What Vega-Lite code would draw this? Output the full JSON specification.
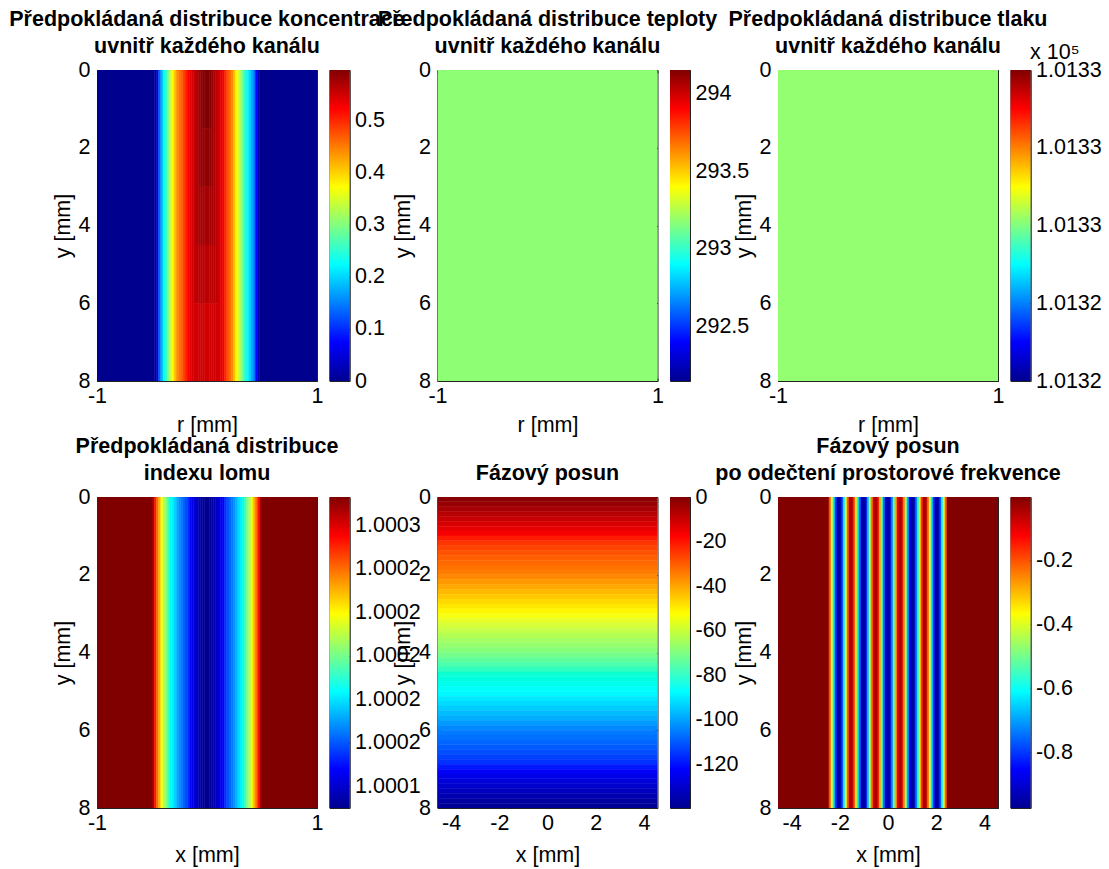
{"$schema":"https://vega.github.io/schema/vega-lite/v6.json","background":"white","padding":{"left":8,"top":8,"right":0,"bottom":0},"bounds":"flush","align":"each","columns":8,"spacing":{"column":12.5,"row":116},"resolve":{"scale":{"color":"independent","stroke":"independent"}},
"config":{"view":{"stroke":"#222"},"axis":{"tickSize":-3,"tickColor":"#222","domainColor":"#222","labelFontSize":21.5,"titleFontSize":21.5,"labelFont":"Liberation Sans","titleFont":"Liberation Sans","titleFontWeight":"normal","labelColor":"#000","titleColor":"#000","grid":false,"labelOverlap":false,"labelBound":false,"labelFlush":false},"axisBottom":{"labelPadding":7,"titlePadding":8},"axisLeft":{"labelPadding":10},"axisRight":{"labelPadding":8},"title":{"font":"Liberation Sans","fontSize":21.5,"fontWeight":"bold","color":"#000","lineHeight":26.5,"offset":2,"limit":600}},
"concat":[
{"width":220,"height":311,"title":{"text":["Předpokládaná distribuce koncentrace","uvnitř každého kanálu"]},"data":{"values":[
{"x0":-1,"x1":-0.5,"y0":0,"y1":8,"v":0},{"x0":-0.5,"x1":-0.48,"y0":0,"y1":8,"v":0},{"x0":-0.48,"x1":-0.46,"y0":0,"y1":8,"v":0.007},{"x0":-0.46,"x1":-0.44,"y0":0,"y1":8,"v":0.048},{"x0":-0.44,"x1":-0.42,"y0":0,"y1":8,"v":0.123},{"x0":-0.42,"x1":-0.4,"y0":0,"y1":8,"v":0.176},{"x0":-0.4,"x1":-0.38,"y0":0,"y1":8,"v":0.227},{"x0":-0.38,"x1":-0.36,"y0":0,"y1":8,"v":0.267},{"x0":-0.36,"x1":-0.34,"y0":0,"y1":8,"v":0.307},{"x0":-0.34,"x1":-0.32,"y0":0,"y1":8,"v":0.339},{"x0":-0.32,"x1":-0.3,"y0":0,"y1":8,"v":0.372},{"x0":-0.3,"x1":-0.28,"y0":0,"y1":8,"v":0.407},{"x0":-0.28,"x1":-0.26,"y0":0,"y1":8,"v":0.438},{"x0":-0.26,"x1":-0.24,"y0":0,"y1":8,"v":0.461},{"x0":-0.24,"x1":-0.22,"y0":0,"y1":8,"v":0.478},{"x0":-0.22,"x1":-0.2,"y0":0,"y1":8,"v":0.498},{"x0":-0.2,"x1":-0.18,"y0":0,"y1":8,"v":0.515},{"x0":-0.18,"x1":-0.16,"y0":0,"y1":8,"v":0.529},{"x0":-0.16,"x1":-0.14,"y0":0,"y1":8,"v":0.538},{"x0":-0.14,"x1":-0.12,"y0":0,"y1":8,"v":0.548},
{"x0":-0.12,"x1":-0.1,"y0":0,"y1":6,"v":0.558},{"x0":-0.12,"x1":-0.1,"y0":6,"y1":8,"v":0.55},
{"x0":-0.1,"x1":-0.08,"y0":0,"y1":4.5,"v":0.568},{"x0":-0.1,"x1":-0.08,"y0":4.5,"y1":6,"v":0.562},{"x0":-0.1,"x1":-0.08,"y0":6,"y1":8,"v":0.55},
{"x0":-0.08,"x1":-0.06,"y0":0,"y1":3,"v":0.577},{"x0":-0.08,"x1":-0.06,"y0":3,"y1":4.5,"v":0.574},{"x0":-0.08,"x1":-0.06,"y0":4.5,"y1":6,"v":0.562},{"x0":-0.08,"x1":-0.06,"y0":6,"y1":8,"v":0.55},
{"x0":-0.06,"x1":-0.04,"y0":0,"y1":3,"v":0.586},{"x0":-0.06,"x1":-0.04,"y0":3,"y1":4.5,"v":0.574},{"x0":-0.06,"x1":-0.04,"y0":4.5,"y1":6,"v":0.562},{"x0":-0.06,"x1":-0.04,"y0":6,"y1":8,"v":0.55},
{"x0":-0.04,"x1":-0.02,"y0":0,"y1":1.5,"v":0.598},{"x0":-0.04,"x1":-0.02,"y0":1.5,"y1":3,"v":0.586},{"x0":-0.04,"x1":-0.02,"y0":3,"y1":4.5,"v":0.574},{"x0":-0.04,"x1":-0.02,"y0":4.5,"y1":6,"v":0.562},{"x0":-0.04,"x1":-0.02,"y0":6,"y1":8,"v":0.55},
{"x0":-0.02,"x1":0,"y0":0,"y1":1.5,"v":0.598},{"x0":-0.02,"x1":0,"y0":1.5,"y1":3,"v":0.586},{"x0":-0.02,"x1":0,"y0":3,"y1":4.5,"v":0.574},{"x0":-0.02,"x1":0,"y0":4.5,"y1":6,"v":0.562},{"x0":-0.02,"x1":0,"y0":6,"y1":8,"v":0.55},
{"x0":0,"x1":0.02,"y0":0,"y1":1.5,"v":0.598},{"x0":0,"x1":0.02,"y0":1.5,"y1":3,"v":0.586},{"x0":0,"x1":0.02,"y0":3,"y1":4.5,"v":0.574},{"x0":0,"x1":0.02,"y0":4.5,"y1":6,"v":0.562},{"x0":0,"x1":0.02,"y0":6,"y1":8,"v":0.55},
{"x0":0.02,"x1":0.04,"y0":0,"y1":1.5,"v":0.596},{"x0":0.02,"x1":0.04,"y0":1.5,"y1":3,"v":0.586},{"x0":0.02,"x1":0.04,"y0":3,"y1":4.5,"v":0.574},{"x0":0.02,"x1":0.04,"y0":4.5,"y1":6,"v":0.562},{"x0":0.02,"x1":0.04,"y0":6,"y1":8,"v":0.55},
{"x0":0.04,"x1":0.06,"y0":0,"y1":3,"v":0.583},{"x0":0.04,"x1":0.06,"y0":3,"y1":4.5,"v":0.574},{"x0":0.04,"x1":0.06,"y0":4.5,"y1":6,"v":0.562},{"x0":0.04,"x1":0.06,"y0":6,"y1":8,"v":0.55},
{"x0":0.06,"x1":0.08,"y0":0,"y1":4.5,"v":0.57},{"x0":0.06,"x1":0.08,"y0":4.5,"y1":6,"v":0.562},{"x0":0.06,"x1":0.08,"y0":6,"y1":8,"v":0.55},
{"x0":0.08,"x1":0.1,"y0":0,"y1":6,"v":0.56},{"x0":0.08,"x1":0.1,"y0":6,"y1":8,"v":0.55},
{"x0":0.1,"x1":0.12,"y0":0,"y1":8,"v":0.55},{"x0":0.12,"x1":0.14,"y0":0,"y1":8,"v":0.54},{"x0":0.14,"x1":0.16,"y0":0,"y1":8,"v":0.53},{"x0":0.16,"x1":0.18,"y0":0,"y1":8,"v":0.515},{"x0":0.18,"x1":0.2,"y0":0,"y1":8,"v":0.492},{"x0":0.2,"x1":0.22,"y0":0,"y1":8,"v":0.469},{"x0":0.22,"x1":0.24,"y0":0,"y1":8,"v":0.444},{"x0":0.24,"x1":0.26,"y0":0,"y1":8,"v":0.411},{"x0":0.26,"x1":0.28,"y0":0,"y1":8,"v":0.378},{"x0":0.28,"x1":0.3,"y0":0,"y1":8,"v":0.35},{"x0":0.3,"x1":0.32,"y0":0,"y1":8,"v":0.323},{"x0":0.32,"x1":0.34,"y0":0,"y1":8,"v":0.288},{"x0":0.34,"x1":0.36,"y0":0,"y1":8,"v":0.261},{"x0":0.36,"x1":0.38,"y0":0,"y1":8,"v":0.229},{"x0":0.38,"x1":0.4,"y0":0,"y1":8,"v":0.2},{"x0":0.4,"x1":0.42,"y0":0,"y1":8,"v":0.173},{"x0":0.42,"x1":0.44,"y0":0,"y1":8,"v":0.141},{"x0":0.44,"x1":0.46,"y0":0,"y1":8,"v":0.075},{"x0":0.46,"x1":0.48,"y0":0,"y1":8,"v":0.009},{"x0":0.48,"x1":0.5,"y0":0,"y1":8,"v":0},{"x0":0.5,"x1":1,"y0":0,"y1":8,"v":0}]},
"layer":[{"mark":{"type":"rect","clip":true,"strokeWidth":0.5},"encoding":{"x":{"field":"x0","type":"quantitative","scale":{"domain":[-1,1],"nice":false},"axis":{"orient":"bottom","values":[-1,0,1],"format":"d","labelExpr":"replace(datum.label,'−','-')","title":"r [mm]"}},"x2":{"field":"x1"},"y":{"field":"y0","type":"quantitative","scale":{"domain":[0,8],"reverse":true,"nice":false},"axis":{"orient":"left","values":[0,2,4,6,8],"title":"y [mm]"}},"y2":{"field":"y1"},"color":{"field":"v","type":"quantitative","legend":null,"scale":{"domain":[0,0.598],"range":["#00008f","#0000ff","#0080ff","#00ffff","#80ff80","#ffff00","#ff8000","#ff0000","#800000"]}},"stroke":{"field":"v","type":"quantitative","legend":null,"scale":{"domain":[0,0.598],"range":["#00008f","#0000ff","#0080ff","#00ffff","#80ff80","#ffff00","#ff8000","#ff0000","#800000"]}}}},
{"data":{"values":[{"a":1}]},"mark":{"type":"rect","opacity":0},"encoding":{"x":{"datum":-1,"type":"quantitative","axis":{"orient":"top","values":[-1,0,1],"labels":false,"title":null,"domain":false}},"y":{"datum":0,"type":"quantitative","axis":{"orient":"right","values":[0,2,4,6,8],"labels":false,"title":null,"domain":false}}}}],"resolve":{"axis":{"x":"independent","y":"independent"}}},
{"width":20,"height":311,"data":{"values":[{"lo":0,"hi":0.598}]},"layer":[{"mark":{"type":"rect","color":{"gradient":"linear","x1":0,"y1":1,"x2":0,"y2":0,"stops":[{"offset":0,"color":"#00008f"},{"offset":0.125,"color":"#0000ff"},{"offset":0.25,"color":"#0080ff"},{"offset":0.375,"color":"#00ffff"},{"offset":0.5,"color":"#80ff80"},{"offset":0.625,"color":"#ffff00"},{"offset":0.75,"color":"#ff8000"},{"offset":0.875,"color":"#ff0000"},{"offset":1,"color":"#800000"}]}},"encoding":{"x":{"datum":0,"type":"quantitative","scale":{"domain":[0,1]},"axis":null},"x2":{"datum":1},"y":{"field":"lo","type":"quantitative","scale":{"domain":[0,0.598],"nice":false},"axis":{"orient":"right","values":[0,0.1,0.2,0.3,0.4,0.5],"format":".1~f","title":null}},"y2":{"field":"hi"}}},{"mark":{"type":"rect","opacity":0},"encoding":{"x":{"datum":0,"type":"quantitative","axis":null},"x2":{"datum":1},"y":{"field":"lo","type":"quantitative","axis":{"orient":"left","values":[0,0.1,0.2,0.3,0.4,0.5],"labels":false,"title":null,"domain":false}},"y2":{"field":"hi"}}}],"resolve":{"axis":{"y":"independent"}}},
{"width":62.5,"height":311,"view":{"stroke":null},"data":{"values":[{"a":1}]},"mark":{"type":"rect","opacity":0},"encoding":{"x":{"datum":0,"type":"quantitative","axis":null},"y":{"datum":0,"type":"quantitative","axis":null}}},
{"width":220,"height":311,"title":{"text":["Předpokládaná distribuce teploty","uvnitř každého kanálu"]},"data":{"values":[{"v":293.18}]},"layer":[{"mark":{"type":"rect","clip":true},"encoding":{"x":{"datum":-1,"type":"quantitative","scale":{"domain":[-1,1],"nice":false},"axis":{"orient":"bottom","values":[-1,0,1],"format":"d","labelExpr":"replace(datum.label,'−','-')","title":"r [mm]"}},"x2":{"datum":1},"y":{"datum":0,"type":"quantitative","scale":{"domain":[0,8],"reverse":true,"nice":false},"axis":{"orient":"left","values":[0,2,4,6,8],"title":"y [mm]"}},"y2":{"datum":8},"color":{"field":"v","type":"quantitative","legend":null,"scale":{"domain":[292.15,294.15],"range":["#00008f","#0000ff","#0080ff","#00ffff","#80ff80","#ffff00","#ff8000","#ff0000","#800000"]}}}},
{"data":{"values":[{"a":1}]},"mark":{"type":"rect","opacity":0},"encoding":{"x":{"datum":-1,"type":"quantitative","axis":{"orient":"top","values":[-1,0,1],"labels":false,"title":null,"domain":false}},"y":{"datum":0,"type":"quantitative","axis":{"orient":"right","values":[0,2,4,6,8],"labels":false,"title":null,"domain":false}}}}],"resolve":{"axis":{"x":"independent","y":"independent"}}},
{"width":20,"height":311,"data":{"values":[{"lo":292.15,"hi":294.15}]},"layer":[{"mark":{"type":"rect","color":{"gradient":"linear","x1":0,"y1":1,"x2":0,"y2":0,"stops":[{"offset":0,"color":"#00008f"},{"offset":0.125,"color":"#0000ff"},{"offset":0.25,"color":"#0080ff"},{"offset":0.375,"color":"#00ffff"},{"offset":0.5,"color":"#80ff80"},{"offset":0.625,"color":"#ffff00"},{"offset":0.75,"color":"#ff8000"},{"offset":0.875,"color":"#ff0000"},{"offset":1,"color":"#800000"}]}},"encoding":{"x":{"datum":0,"type":"quantitative","scale":{"domain":[0,1]},"axis":null},"x2":{"datum":1},"y":{"field":"lo","type":"quantitative","scale":{"domain":[292.15,294.15],"nice":false},"axis":{"orient":"right","values":[292.5,293,293.5,294],"format":".1~f","title":null}},"y2":{"field":"hi"}}},{"mark":{"type":"rect","opacity":0},"encoding":{"x":{"datum":0,"type":"quantitative","axis":null},"x2":{"datum":1},"y":{"field":"lo","type":"quantitative","axis":{"orient":"left","values":[292.5,293,293.5,294],"labels":false,"title":null,"domain":false}},"y2":{"field":"hi"}}}],"resolve":{"axis":{"y":"independent"}}},
{"width":62.5,"height":311,"view":{"stroke":null},"data":{"values":[{"a":1}]},"mark":{"type":"rect","opacity":0},"encoding":{"x":{"datum":0,"type":"quantitative","axis":null},"y":{"datum":0,"type":"quantitative","axis":null}}},
{"width":220,"height":311,"title":{"text":["Předpokládaná distribuce tlaku","uvnitř každého kanálu"]},"data":{"values":[{"v":1.0132504}]},"layer":[{"mark":{"type":"rect","clip":true},"encoding":{"x":{"datum":-1,"type":"quantitative","scale":{"domain":[-1,1],"nice":false},"axis":{"orient":"bottom","values":[-1,0,1],"format":"d","labelExpr":"replace(datum.label,'−','-')","title":"r [mm]"}},"x2":{"datum":1},"y":{"datum":0,"type":"quantitative","scale":{"domain":[0,8],"reverse":true,"nice":false},"axis":{"orient":"left","values":[0,2,4,6,8],"title":"y [mm]"}},"y2":{"datum":8},"color":{"field":"v","type":"quantitative","legend":null,"scale":{"domain":[1.01324,1.01326],"range":["#00008f","#0000ff","#0080ff","#00ffff","#80ff80","#ffff00","#ff8000","#ff0000","#800000"]}}}},
{"data":{"values":[{"a":1}]},"mark":{"type":"rect","opacity":0},"encoding":{"x":{"datum":-1,"type":"quantitative","axis":{"orient":"top","values":[-1,0,1],"labels":false,"title":null,"domain":false}},"y":{"datum":0,"type":"quantitative","axis":{"orient":"right","values":[0,2,4,6,8],"labels":false,"title":null,"domain":false}}}}],"resolve":{"axis":{"x":"independent","y":"independent"}}},
{"width":20,"height":311,"title":{"text":"x 10⁵","anchor":"start","fontWeight":"normal","dx":20,"offset":-4},"data":{"values":[{"lo":1.01324,"hi":1.01326}]},"layer":[{"mark":{"type":"rect","color":{"gradient":"linear","x1":0,"y1":1,"x2":0,"y2":0,"stops":[{"offset":0,"color":"#00008f"},{"offset":0.125,"color":"#0000ff"},{"offset":0.25,"color":"#0080ff"},{"offset":0.375,"color":"#00ffff"},{"offset":0.5,"color":"#80ff80"},{"offset":0.625,"color":"#ffff00"},{"offset":0.75,"color":"#ff8000"},{"offset":0.875,"color":"#ff0000"},{"offset":1,"color":"#800000"}]}},"encoding":{"x":{"datum":0,"type":"quantitative","scale":{"domain":[0,1]},"axis":null},"x2":{"datum":1},"y":{"field":"lo","type":"quantitative","scale":{"domain":[1.01324,1.01326],"nice":false},"axis":{"orient":"right","values":[1.01324,1.013245,1.01325001,1.013255,1.01326],"format":".4f","title":null}},"y2":{"field":"hi"}}},{"mark":{"type":"rect","opacity":0},"encoding":{"x":{"datum":0,"type":"quantitative","axis":null},"x2":{"datum":1},"y":{"field":"lo","type":"quantitative","axis":{"orient":"left","values":[1.01324,1.013245,1.01325,1.013255,1.01326],"labels":false,"title":null,"domain":false}},"y2":{"field":"hi"}}}],"resolve":{"axis":{"y":"independent"}}},
{"width":220,"height":311,"title":{"text":["Předpokládaná distribuce","indexu lomu"]},"data":{"values":[
{"x0":-1,"x1":-0.5,"v":1.000273},{"x0":-0.5,"x1":-0.48,"v":1.0002687},{"x0":-0.48,"x1":-0.46,"v":1.0002544},{"x0":-0.46,"x1":-0.44,"v":1.0002415},{"x0":-0.44,"x1":-0.42,"v":1.0002301},{"x0":-0.42,"x1":-0.4,"v":1.0002187},{"x0":-0.4,"x1":-0.38,"v":1.0002087},{"x0":-0.38,"x1":-0.36,"v":1.0002015},{"x0":-0.36,"x1":-0.34,"v":1.0001944},{"x0":-0.34,"x1":-0.32,"v":1.0001872},{"x0":-0.32,"x1":-0.3,"v":1.0001815},{"x0":-0.3,"x1":-0.28,"v":1.0001772},{"x0":-0.28,"x1":-0.26,"v":1.0001722},{"x0":-0.26,"x1":-0.24,"v":1.0001679},{"x0":-0.24,"x1":-0.22,"v":1.0001643},{"x0":-0.22,"x1":-0.2,"v":1.00016},{"x0":-0.2,"x1":-0.18,"v":1.0001557},{"x0":-0.18,"x1":-0.16,"v":1.0001515},{"x0":-0.16,"x1":-0.14,"v":1.0001472},{"x0":-0.14,"x1":-0.12,"v":1.0001443},{"x0":-0.12,"x1":-0.1,"v":1.0001414},{"x0":-0.1,"x1":-0.08,"v":1.0001386},{"x0":-0.08,"x1":-0.06,"v":1.0001364},{"x0":-0.06,"x1":-0.04,"v":1.0001343},{"x0":-0.04,"x1":-0.02,"v":1.0001314},{"x0":-0.02,"x1":0,"v":1.00013},
{"x0":0,"x1":0.02,"v":1.00013},{"x0":0.02,"x1":0.04,"v":1.0001314},{"x0":0.04,"x1":0.06,"v":1.0001343},{"x0":0.06,"x1":0.08,"v":1.0001364},{"x0":0.08,"x1":0.1,"v":1.0001386},{"x0":0.1,"x1":0.12,"v":1.0001414},{"x0":0.12,"x1":0.14,"v":1.0001443},{"x0":0.14,"x1":0.16,"v":1.0001472},{"x0":0.16,"x1":0.18,"v":1.0001515},{"x0":0.18,"x1":0.2,"v":1.0001557},{"x0":0.2,"x1":0.22,"v":1.00016},{"x0":0.22,"x1":0.24,"v":1.0001643},{"x0":0.24,"x1":0.26,"v":1.0001679},{"x0":0.26,"x1":0.28,"v":1.0001722},{"x0":0.28,"x1":0.3,"v":1.0001772},{"x0":0.3,"x1":0.32,"v":1.0001815},{"x0":0.32,"x1":0.34,"v":1.0001872},{"x0":0.34,"x1":0.36,"v":1.0001944},{"x0":0.36,"x1":0.38,"v":1.0002015},{"x0":0.38,"x1":0.4,"v":1.0002087},{"x0":0.4,"x1":0.42,"v":1.0002187},{"x0":0.42,"x1":0.44,"v":1.0002301},{"x0":0.44,"x1":0.46,"v":1.0002415},{"x0":0.46,"x1":0.48,"v":1.0002544},{"x0":0.48,"x1":0.5,"v":1.0002687},{"x0":0.5,"x1":1,"v":1.000273}]},
"layer":[{"mark":{"type":"rect","clip":true,"strokeWidth":0.5},"encoding":{"x":{"field":"x0","type":"quantitative","scale":{"domain":[-1,1],"nice":false},"axis":{"orient":"bottom","values":[-1,0,1],"format":"d","labelExpr":"replace(datum.label,'−','-')","title":"x [mm]","titlePadding":11}},"x2":{"field":"x1"},"y":{"datum":0,"type":"quantitative","scale":{"domain":[0,8],"reverse":true,"nice":false},"axis":{"orient":"left","values":[0,2,4,6,8],"title":"y [mm]"}},"y2":{"datum":8},"color":{"field":"v","type":"quantitative","legend":null,"scale":{"domain":[1.00013,1.000273],"range":["#00008f","#0000ff","#0080ff","#00ffff","#80ff80","#ffff00","#ff8000","#ff0000","#800000"]}},"stroke":{"field":"v","type":"quantitative","legend":null,"scale":{"domain":[1.00013,1.000273],"range":["#00008f","#0000ff","#0080ff","#00ffff","#80ff80","#ffff00","#ff8000","#ff0000","#800000"]}}}},
{"data":{"values":[{"a":1}]},"mark":{"type":"rect","opacity":0},"encoding":{"x":{"datum":-1,"type":"quantitative","axis":{"orient":"top","values":[-1,0,1],"labels":false,"title":null,"domain":false}},"y":{"datum":0,"type":"quantitative","axis":{"orient":"right","values":[0,2,4,6,8],"labels":false,"title":null,"domain":false}}}}],"resolve":{"axis":{"x":"independent","y":"independent"}}},
{"width":20,"height":311,"data":{"values":[{"lo":1.00013,"hi":1.000273}]},"layer":[{"mark":{"type":"rect","color":{"gradient":"linear","x1":0,"y1":1,"x2":0,"y2":0,"stops":[{"offset":0,"color":"#00008f"},{"offset":0.125,"color":"#0000ff"},{"offset":0.25,"color":"#0080ff"},{"offset":0.375,"color":"#00ffff"},{"offset":0.5,"color":"#80ff80"},{"offset":0.625,"color":"#ffff00"},{"offset":0.75,"color":"#ff8000"},{"offset":0.875,"color":"#ff0000"},{"offset":1,"color":"#800000"}]}},"encoding":{"x":{"datum":0,"type":"quantitative","scale":{"domain":[0,1]},"axis":null},"x2":{"datum":1},"y":{"field":"lo","type":"quantitative","scale":{"domain":[1.00013,1.000273],"nice":false},"axis":{"orient":"right","values":[1.00014,1.00016,1.00018,1.0002,1.00022,1.00024,1.00026],"format":".4f","title":null}},"y2":{"field":"hi"}}},{"mark":{"type":"rect","opacity":0},"encoding":{"x":{"datum":0,"type":"quantitative","axis":null},"x2":{"datum":1},"y":{"field":"lo","type":"quantitative","axis":{"orient":"left","values":[1.00014,1.00016,1.00018,1.0002,1.00022,1.00024,1.00026],"labels":false,"title":null,"domain":false}},"y2":{"field":"hi"}}}],"resolve":{"axis":{"y":"independent"}}},
{"width":62.5,"height":311,"view":{"stroke":null},"data":{"values":[{"a":1}]},"mark":{"type":"rect","opacity":0},"encoding":{"x":{"datum":0,"type":"quantitative","axis":null},"y":{"datum":0,"type":"quantitative","axis":null}}},
{"width":220,"height":311,"title":{"text":"Fázový posun"},"data":{"values":[
{"y0":0,"y1":0.125,"v":-1.1},{"y0":0.125,"y1":0.25,"v":-3.3},{"y0":0.25,"y1":0.375,"v":-5.5},{"y0":0.375,"y1":0.5,"v":-7.6},{"y0":0.5,"y1":0.625,"v":-9.8},{"y0":0.625,"y1":0.75,"v":-12},{"y0":0.75,"y1":0.875,"v":-14.2},{"y0":0.875,"y1":1,"v":-16.4},{"y0":1,"y1":1.125,"v":-18.5},{"y0":1.125,"y1":1.25,"v":-20.7},{"y0":1.25,"y1":1.375,"v":-22.9},{"y0":1.375,"y1":1.5,"v":-25.1},{"y0":1.5,"y1":1.625,"v":-27.3},{"y0":1.625,"y1":1.75,"v":-29.4},{"y0":1.75,"y1":1.875,"v":-31.6},{"y0":1.875,"y1":2,"v":-33.8},{"y0":2,"y1":2.125,"v":-36},{"y0":2.125,"y1":2.25,"v":-38.2},{"y0":2.25,"y1":2.375,"v":-40.3},{"y0":2.375,"y1":2.5,"v":-42.5},{"y0":2.5,"y1":2.625,"v":-44.7},{"y0":2.625,"y1":2.75,"v":-46.9},{"y0":2.75,"y1":2.875,"v":-49.1},{"y0":2.875,"y1":3,"v":-51.2},{"y0":3,"y1":3.125,"v":-53.4},{"y0":3.125,"y1":3.25,"v":-55.6},{"y0":3.25,"y1":3.375,"v":-57.8},{"y0":3.375,"y1":3.5,"v":-60},{"y0":3.5,"y1":3.625,"v":-62.1},{"y0":3.625,"y1":3.75,"v":-64.3},{"y0":3.75,"y1":3.875,"v":-66.5},{"y0":3.875,"y1":4,"v":-68.7},{"y0":4,"y1":4.125,"v":-70.9},{"y0":4.125,"y1":4.25,"v":-73},{"y0":4.25,"y1":4.375,"v":-75.2},{"y0":4.375,"y1":4.5,"v":-77.4},{"y0":4.5,"y1":4.625,"v":-79.6},{"y0":4.625,"y1":4.75,"v":-81.8},{"y0":4.75,"y1":4.875,"v":-83.9},{"y0":4.875,"y1":5,"v":-86.1},{"y0":5,"y1":5.125,"v":-88.3},{"y0":5.125,"y1":5.25,"v":-90.5},{"y0":5.25,"y1":5.375,"v":-92.7},{"y0":5.375,"y1":5.5,"v":-94.8},{"y0":5.5,"y1":5.625,"v":-97},{"y0":5.625,"y1":5.75,"v":-99.2},{"y0":5.75,"y1":5.875,"v":-101.4},{"y0":5.875,"y1":6,"v":-103.6},{"y0":6,"y1":6.125,"v":-105.7},{"y0":6.125,"y1":6.25,"v":-107.9},{"y0":6.25,"y1":6.375,"v":-110.1},{"y0":6.375,"y1":6.5,"v":-112.3},{"y0":6.5,"y1":6.625,"v":-114.5},{"y0":6.625,"y1":6.75,"v":-116.6},{"y0":6.75,"y1":6.875,"v":-118.8},{"y0":6.875,"y1":7,"v":-121},{"y0":7,"y1":7.125,"v":-123.2},{"y0":7.125,"y1":7.25,"v":-125.4},{"y0":7.25,"y1":7.375,"v":-127.5},{"y0":7.375,"y1":7.5,"v":-129.7},{"y0":7.5,"y1":7.625,"v":-131.9},{"y0":7.625,"y1":7.75,"v":-134.1},{"y0":7.75,"y1":7.875,"v":-136.3},{"y0":7.875,"y1":8,"v":-138.4}]},
"layer":[{"mark":{"type":"rect","clip":true,"strokeWidth":0.5},"encoding":{"x":{"datum":-4.564,"type":"quantitative","scale":{"domain":[-4.564,4.564],"nice":false},"axis":{"orient":"bottom","values":[-4,-2,0,2,4],"format":"d","labelExpr":"replace(datum.label,'−','-')","title":"x [mm]","titlePadding":11}},"x2":{"datum":4.564},"y":{"field":"y0","type":"quantitative","scale":{"domain":[0,8],"reverse":true,"nice":false},"axis":{"orient":"left","values":[0,2,4,6,8],"title":"y [mm]"}},"y2":{"field":"y1"},"color":{"field":"v","type":"quantitative","legend":null,"scale":{"domain":[-139.5,0],"range":["#00008f","#0000ff","#0080ff","#00ffff","#80ff80","#ffff00","#ff8000","#ff0000","#800000"]}},"stroke":{"field":"v","type":"quantitative","legend":null,"scale":{"domain":[-139.5,0],"range":["#00008f","#0000ff","#0080ff","#00ffff","#80ff80","#ffff00","#ff8000","#ff0000","#800000"]}}}},
{"data":{"values":[{"a":1}]},"mark":{"type":"rect","opacity":0},"encoding":{"x":{"datum":-4,"type":"quantitative","axis":{"orient":"top","values":[-4,-2,0,2,4],"labels":false,"title":null,"domain":false}},"y":{"datum":0,"type":"quantitative","axis":{"orient":"right","values":[0,2,4,6,8],"labels":false,"title":null,"domain":false}}}}],"resolve":{"axis":{"x":"independent","y":"independent"}}},
{"width":20,"height":311,"data":{"values":[{"lo":-139.5,"hi":0}]},"layer":[{"mark":{"type":"rect","color":{"gradient":"linear","x1":0,"y1":1,"x2":0,"y2":0,"stops":[{"offset":0,"color":"#00008f"},{"offset":0.125,"color":"#0000ff"},{"offset":0.25,"color":"#0080ff"},{"offset":0.375,"color":"#00ffff"},{"offset":0.5,"color":"#80ff80"},{"offset":0.625,"color":"#ffff00"},{"offset":0.75,"color":"#ff8000"},{"offset":0.875,"color":"#ff0000"},{"offset":1,"color":"#800000"}]}},"encoding":{"x":{"datum":0,"type":"quantitative","scale":{"domain":[0,1]},"axis":null},"x2":{"datum":1},"y":{"field":"lo","type":"quantitative","scale":{"domain":[-139.5,0],"nice":false},"axis":{"orient":"right","values":[-120,-100,-80,-60,-40,-20,0],"format":"d","labelExpr":"replace(datum.label,'−','-')","title":null}},"y2":{"field":"hi"}}},{"mark":{"type":"rect","opacity":0},"encoding":{"x":{"datum":0,"type":"quantitative","axis":null},"x2":{"datum":1},"y":{"field":"lo","type":"quantitative","axis":{"orient":"left","values":[-120,-100,-80,-60,-40,-20,0],"labels":false,"title":null,"domain":false}},"y2":{"field":"hi"}}}],"resolve":{"axis":{"y":"independent"}}},
{"width":62.5,"height":311,"view":{"stroke":null},"data":{"values":[{"a":1}]},"mark":{"type":"rect","opacity":0},"encoding":{"x":{"datum":0,"type":"quantitative","axis":null},"y":{"datum":0,"type":"quantitative","axis":null}}},
{"width":220,"height":311,"title":{"text":["Fázový posun","po odečtení prostorové frekvence"]},"data":{"values":[
{"x0":-4.564,"x1":-2.448,"v":-0.003},{"x0":-2.448,"x1":-2.365,"v":-0.183},{"x0":-2.365,"x1":-2.282,"v":-0.394},{"x0":-2.282,"x1":-2.199,"v":-0.633},{"x0":-2.199,"x1":-2.116,"v":-0.837},{"x0":-2.116,"x1":-2.033,"v":-0.954},{"x0":-2.033,"x1":-1.95,"v":-0.955},{"x0":-1.95,"x1":-1.867,"v":-0.838},{"x0":-1.867,"x1":-1.784,"v":-0.634},{"x0":-1.784,"x1":-1.701,"v":-0.396},{"x0":-1.701,"x1":-1.618,"v":-0.184},{"x0":-1.618,"x1":-1.535,"v":-0.054},{"x0":-1.535,"x1":-1.452,"v":-0.038},{"x0":-1.452,"x1":-1.369,"v":-0.142},{"x0":-1.369,"x1":-1.286,"v":-0.338},{"x0":-1.286,"x1":-1.203,"v":-0.575},{"x0":-1.203,"x1":-1.12,"v":-0.793},{"x0":-1.12,"x1":-1.037,"v":-0.936},{"x0":-1.037,"x1":-0.954,"v":-0.966},{"x0":-0.954,"x1":-0.871,"v":-0.877},{"x0":-0.871,"x1":-0.788,"v":-0.69},{"x0":-0.788,"x1":-0.705,"v":-0.455},{"x0":-0.705,"x1":-0.622,"v":-0.231},{"x0":-0.622,"x1":-0.539,"v":-0.077},{"x0":-0.539,"x1":-0.456,"v":-0.031},{"x0":-0.456,"x1":-0.373,"v":-0.106},{"x0":-0.373,"x1":-0.29,"v":-0.282},{"x0":-0.29,"x1":-0.207,"v":-0.515},{"x0":-0.207,"x1":-0.124,"v":-0.743},{"x0":-0.124,"x1":-0.041,"v":-0.909},{"x0":-0.041,"x1":0.041,"v":-0.97},{"x0":0.041,"x1":0.124,"v":-0.909},{"x0":0.124,"x1":0.207,"v":-0.743},{"x0":0.207,"x1":0.29,"v":-0.515},{"x0":0.29,"x1":0.373,"v":-0.282},{"x0":0.373,"x1":0.456,"v":-0.106},{"x0":0.456,"x1":0.539,"v":-0.031},{"x0":0.539,"x1":0.622,"v":-0.077},{"x0":0.622,"x1":0.705,"v":-0.231},{"x0":0.705,"x1":0.788,"v":-0.455},{"x0":0.788,"x1":0.871,"v":-0.69},{"x0":0.871,"x1":0.954,"v":-0.877},{"x0":0.954,"x1":1.037,"v":-0.966},{"x0":1.037,"x1":1.12,"v":-0.936},{"x0":1.12,"x1":1.203,"v":-0.793},{"x0":1.203,"x1":1.286,"v":-0.575},{"x0":1.286,"x1":1.369,"v":-0.338},{"x0":1.369,"x1":1.452,"v":-0.142},{"x0":1.452,"x1":1.535,"v":-0.038},{"x0":1.535,"x1":1.618,"v":-0.054},{"x0":1.618,"x1":1.701,"v":-0.184},{"x0":1.701,"x1":1.784,"v":-0.396},{"x0":1.784,"x1":1.867,"v":-0.634},{"x0":1.867,"x1":1.95,"v":-0.838},{"x0":1.95,"x1":2.033,"v":-0.955},{"x0":2.033,"x1":2.116,"v":-0.954},{"x0":2.116,"x1":2.199,"v":-0.837},{"x0":2.199,"x1":2.282,"v":-0.633},{"x0":2.282,"x1":2.365,"v":-0.394},{"x0":2.365,"x1":2.448,"v":-0.183},{"x0":2.448,"x1":4.564,"v":-0.003}]},
"layer":[{"mark":{"type":"rect","clip":true,"strokeWidth":0.5},"encoding":{"x":{"field":"x0","type":"quantitative","scale":{"domain":[-4.564,4.564],"nice":false},"axis":{"orient":"bottom","values":[-4,-2,0,2,4],"format":"d","labelExpr":"replace(datum.label,'−','-')","title":"x [mm]","titlePadding":11}},"x2":{"field":"x1"},"y":{"datum":0,"type":"quantitative","scale":{"domain":[0,8],"reverse":true,"nice":false},"axis":{"orient":"left","values":[0,2,4,6,8],"title":"y [mm]"}},"y2":{"datum":8},"color":{"field":"v","type":"quantitative","legend":null,"scale":{"domain":[-0.975,-0.002],"range":["#00008f","#0000ff","#0080ff","#00ffff","#80ff80","#ffff00","#ff8000","#ff0000","#800000"]}},"stroke":{"field":"v","type":"quantitative","legend":null,"scale":{"domain":[-0.975,-0.002],"range":["#00008f","#0000ff","#0080ff","#00ffff","#80ff80","#ffff00","#ff8000","#ff0000","#800000"]}}}},
{"data":{"values":[{"a":1}]},"mark":{"type":"rect","opacity":0},"encoding":{"x":{"datum":-4,"type":"quantitative","axis":{"orient":"top","values":[-4,-2,0,2,4],"labels":false,"title":null,"domain":false}},"y":{"datum":0,"type":"quantitative","axis":{"orient":"right","values":[0,2,4,6,8],"labels":false,"title":null,"domain":false}}}}],"resolve":{"axis":{"x":"independent","y":"independent"}}},
{"width":20,"height":311,"data":{"values":[{"lo":-0.975,"hi":-0.002}]},"layer":[{"mark":{"type":"rect","color":{"gradient":"linear","x1":0,"y1":1,"x2":0,"y2":0,"stops":[{"offset":0,"color":"#00008f"},{"offset":0.125,"color":"#0000ff"},{"offset":0.25,"color":"#0080ff"},{"offset":0.375,"color":"#00ffff"},{"offset":0.5,"color":"#80ff80"},{"offset":0.625,"color":"#ffff00"},{"offset":0.75,"color":"#ff8000"},{"offset":0.875,"color":"#ff0000"},{"offset":1,"color":"#800000"}]}},"encoding":{"x":{"datum":0,"type":"quantitative","scale":{"domain":[0,1]},"axis":null},"x2":{"datum":1},"y":{"field":"lo","type":"quantitative","scale":{"domain":[-0.975,-0.002],"nice":false},"axis":{"orient":"right","values":[-0.8,-0.6,-0.4,-0.2],"format":".1f","labelExpr":"replace(datum.label,'−','-')","title":null}},"y2":{"field":"hi"}}},{"mark":{"type":"rect","opacity":0},"encoding":{"x":{"datum":0,"type":"quantitative","axis":null},"x2":{"datum":1},"y":{"field":"lo","type":"quantitative","axis":{"orient":"left","values":[-0.8,-0.6,-0.4,-0.2],"labels":false,"title":null,"domain":false}},"y2":{"field":"hi"}}}],"resolve":{"axis":{"y":"independent"}}}
]}
